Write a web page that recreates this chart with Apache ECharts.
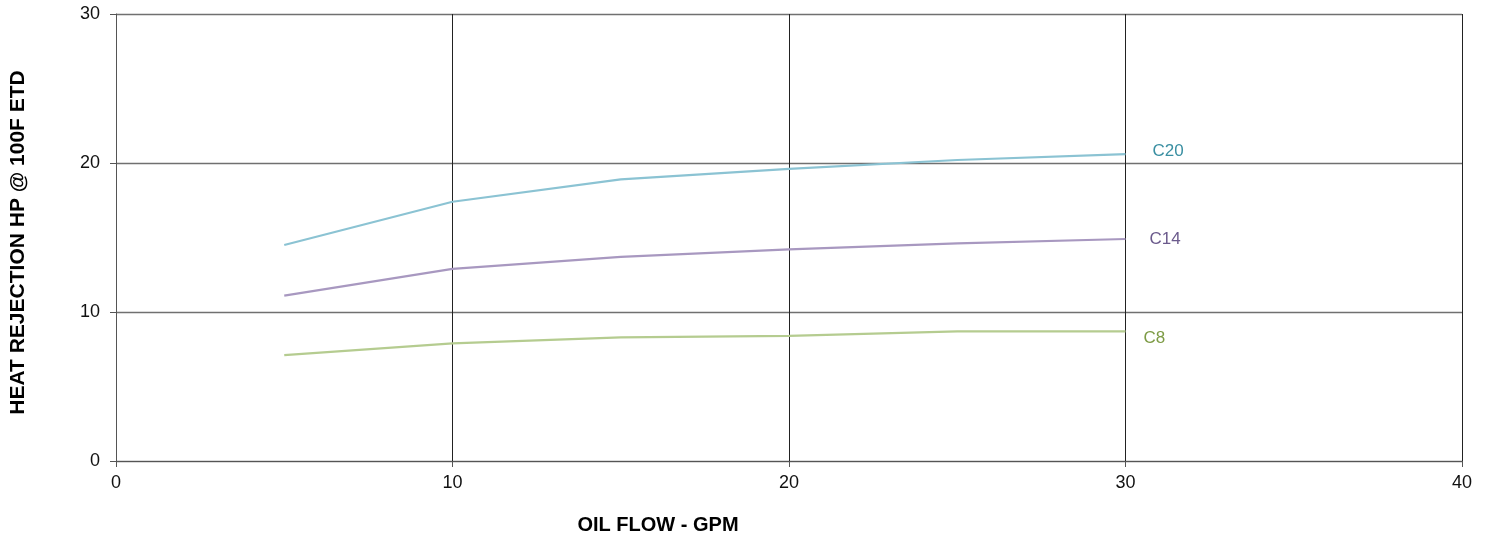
<!DOCTYPE html>
<html><head><meta charset="utf-8">
<script src="https://cdn.jsdelivr.net/npm/echarts@6/dist/echarts.min.js"></script>
<style>html,body{margin:0;padding:0;background:#fff}#c{width:1491px;height:539px}</style>
</head><body><div id="c"></div>
<script>
const flow = [5, 10, 15, 20, 25, 30];
const c20 = [14.5, 17.4, 18.9, 19.6, 20.2, 20.6];
const c14 = [11.1, 12.9, 13.7, 14.2, 14.6, 14.9];
const c8 = [7.1, 7.9, 8.3, 8.4, 8.7, 8.7];
const names = ['C20', 'C14', 'C8'];
const lineColors = ['#8bc3d3', '#a898c0', '#b5cc90'];
const labelColors = ['#3a8fa2', '#6b5a8c', '#7d9b45'];
const font = '"Liberation Sans", Arial, sans-serif';
const data = [c20, c14, c8];
const chart = echarts.init(document.getElementById('c'));
chart.setOption({
  animation: false,
  grid: {left: 116, right: 29, top: 14, bottom: 78, containLabel: false, outerBoundsMode: 'none'},
  xAxis: {
    type: 'value', min: 0, max: 40, interval: 10,
    name: 'OIL FLOW - GPM', nameLocation: 'middle', nameGap: 54,
    nameTextStyle: {fontFamily: font, fontWeight: 'bold', fontSize: 20, color: '#000', padding: [0, 262, 0, 0]},
    axisLine: {lineStyle: {color: '#555', width: 1}},
    axisTick: {show: true, length: 6, lineStyle: {color: '#555'}},
    axisLabel: {fontFamily: font, fontSize: 18, color: '#111', margin: 13},
    splitLine: {show: true, lineStyle: {color: '#222', width: 1}}
  },
  yAxis: {
    type: 'value', min: 0, max: 30, interval: 10,
    name: 'HEAT REJECTION HP @ 100F ETD', nameLocation: 'middle', nameGap: 87,
    nameTextStyle: {fontFamily: font, fontWeight: 'bold', fontSize: 21, color: '#000', padding: [0, 10, 0, 0]},
    axisLine: {show: true, lineStyle: {color: '#555', width: 1}},
    axisTick: {show: true, length: 6, lineStyle: {color: '#555'}},
    axisLabel: {fontFamily: font, fontSize: 18, color: '#111', margin: 16},
    splitLine: {show: true, lineStyle: {color: '#707070', width: 1.3}}
  },
  series: data.map((d, i) => ({
    name: names[i], type: 'line', showSymbol: false, symbol: 'none',
    data: d.map((v, j) => [flow[j], v]),
    lineStyle: {color: lineColors[i], width: 2.2},
    itemStyle: {color: lineColors[i]},
    endLabel: {show: true, formatter: names[i], distance: [27, 24, 18][i], color: labelColors[i], fontFamily: font, fontSize: 17, offset: [0, [-3, 0, 7][i]]}
  }))
});
</script></body></html>
